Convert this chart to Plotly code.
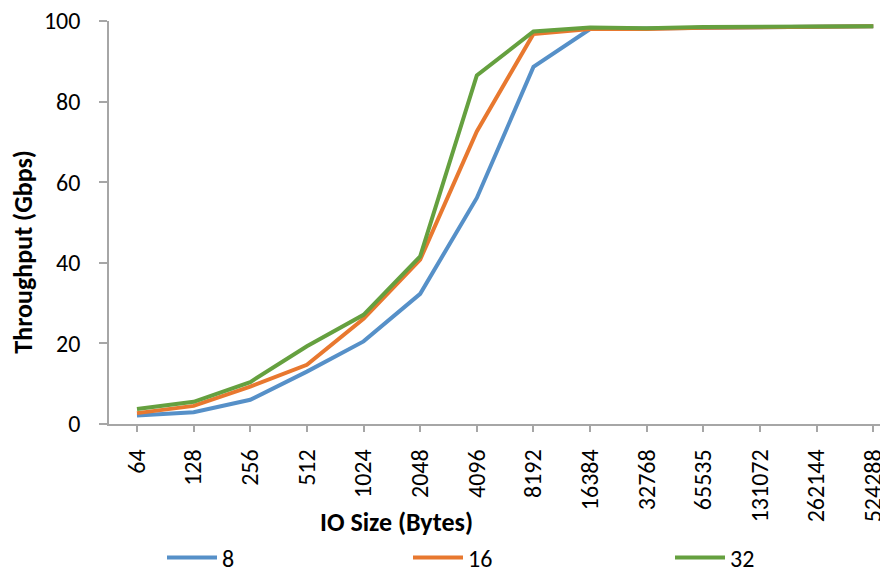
import plotly.graph_objects as go

categories = ["64", "128", "256", "512", "1024", "2048", "4096", "8192",
              "16384", "32768", "65535", "131072", "262144", "524288"]
series_names = ["8", "16", "32"]
s8 = [2.1, 2.9, 6.0, 13.0, 20.5, 32.3, 56.1, 88.6, 98.0, 98.2, 98.4, 98.5, 98.6, 98.7]
s16 = [2.7, 4.5, 9.3, 14.7, 26.1, 40.8, 72.6, 96.8, 98.0, 98.0, 98.3, 98.4, 98.5, 98.7]
s32 = [3.7, 5.5, 10.4, 19.3, 27.1, 41.6, 86.5, 97.4, 98.4, 98.2, 98.5, 98.5, 98.6, 98.7]
colors = ["#5690C8", "#E8782F", "#65A03F"]

FONT = "Carlito, Calibri, Lato, sans-serif"

# page body has an 8px margin, so the figure is drawn 8px smaller
W, H = 880, 561
L, R, T, B = 101, 0, 13, 145
PW, PH = W - L - R, H - T - B

legend_ids = ["legend", "legend2", "legend3"]
legend_x_px = [154, 400, 662]

fig = go.Figure()
for name, vals, c, lg in zip(series_names, [s8, s16, s32], colors, legend_ids):
    fig.add_trace(go.Scatter(x=list(range(len(categories))), y=vals, mode="lines",
                             name=name, line=dict(color=c, width=4), legend=lg))

leg_y = -(550 - (H - B)) / PH
legends = {}
for lg, px in zip(legend_ids, legend_x_px):
    legends[lg] = dict(orientation="h", x=(px - L) / PW, y=leg_y,
                       xanchor="left", yanchor="middle",
                       font=dict(family=FONT, size=24, color="black"),
                       itemwidth=50, bgcolor="rgba(0,0,0,0)")

fig.update_layout(
    width=W, height=H, margin=dict(l=L, r=R, t=T, b=B, autoexpand=False),
    paper_bgcolor="white", plot_bgcolor="white",
    font=dict(family=FONT, size=24, color="black"),
    showlegend=True,
    **legends,
)
fig.update_xaxes(
    range=[-0.494, 13.26], tickmode="array", tickvals=list(range(len(categories))),
    ticktext=categories, tickangle=-90, showgrid=False, zeroline=False,
    showline=True, linecolor="#A6A6A6", linewidth=1.5, automargin=False,
    ticks="outside", ticklen=6, tickcolor="#A6A6A6", tickwidth=1.5,
    ticklabelstandoff=8, ticklabeloverflow="allow",
)
fig.update_yaxes(
    range=[0, 100], tickmode="array", tickvals=[0, 20, 40, 60, 80, 100],
    ticktext=["0", "20", "40", "60", "80", "100"],
    showgrid=False, zeroline=False,
    showline=True, linecolor="#A6A6A6", linewidth=1.5, automargin=False,
    ticks="outside", ticklen=8, tickcolor="#A6A6A6", tickwidth=1.5,
    ticklabelstandoff=14, ticklabeloverflow="allow",
)
fig.add_annotation(text="<b>IO Size (Bytes)</b>", xref="paper", yref="paper",
                   x=(388.5 - L) / PW, y=-(513.7 - (H - B)) / PH,
                   showarrow=False, xanchor="center", yanchor="middle",
                   font=dict(family=FONT, size=26))
fig.add_annotation(text="<b>Throughput (Gbps)</b>", xref="paper", yref="paper",
                   x=-(L - 15) / PW, y=(H - B - 243.7) / PH,
                   showarrow=False, xanchor="center", yanchor="middle", textangle=-90,
                   font=dict(family=FONT, size=26))
fig.write_html("out.html")
